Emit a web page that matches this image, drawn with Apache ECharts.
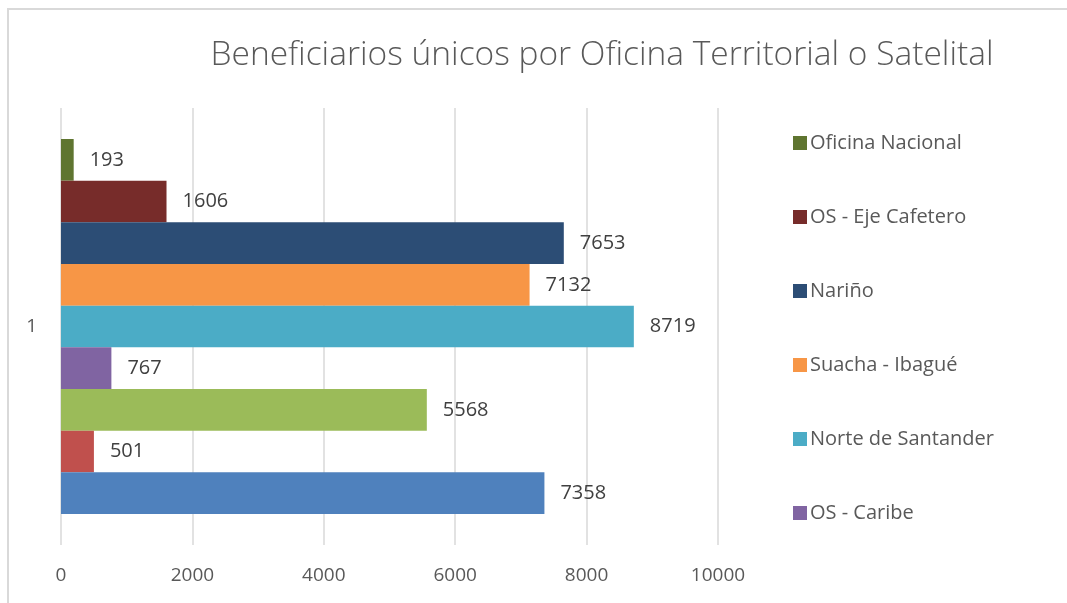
<!DOCTYPE html>
<html>
<head>
<meta charset="utf-8">
<script src="https://cdn.jsdelivr.net/npm/echarts@6/dist/echarts.min.js"></script>
<style>
  html, body { margin: 0; padding: 0; background: #fff; }
  #chart { width: 1067px; height: 603px; }
</style>
</head>
<body>
<div id="chart"></div>
<script>
// data, listed top bar first
const categories = ['1']
const seriesNames = ['Oficina Nacional', 'OS - Eje Cafetero', 'Nariño', 'Suacha - Ibagué',
  'Norte de Santander', 'OS - Caribe', 'Serie 3', 'Serie 2', 'Serie 1']
const seriesValues = [193, 1606, 7653, 7132, 8719, 767, 5568, 501, 7358]
const seriesColors = ['#5F7530', '#772C2A', '#2C4D75', '#F79646', '#4BACC6',
  '#8064A2', '#9BBB59', '#C0504D', '#4F81BD']
// only these six fit in the legend box of the original
const legendNames = ['Oficina Nacional', 'OS - Eje Cafetero', 'Nariño',
  'Suacha - Ibagué', 'Norte de Santander', 'OS - Caribe']
const xTicks = [0, 2000, 4000, 6000, 8000, 10000]

const font = '"Open Sans", "Noto Sans", sans-serif'
const chart = echarts.init(document.getElementById('chart'))

chart.setOption({
  animation: false,
  textStyle: { fontFamily: font },
  title: {
    text: 'Beneficiarios únicos por Oficina Territorial o Satelital',
    left: 597,
    top: 33,
    textAlign: 'center',
    textStyle: { fontFamily: font, fontSize: 33.5, fontWeight: 300, color: '#595959' },
  },
  legend: {
    orient: 'vertical',
    left: 788,
    top: 128,
    itemWidth: 14,
    itemHeight: 14,
    itemGap: 54,
    icon: 'rect',
    data: legendNames,
    textStyle: { fontFamily: font, fontSize: 20, color: '#595959', padding: [0, 0, 0, -2] },
  },
  grid: { left: 61, right: 349, top: 108, bottom: 58, containLabel: false },
  xAxis: {
    type: 'value',
    min: xTicks[0],
    max: xTicks[xTicks.length - 1],
    interval: 2000,
    axisLine: { show: false },
    axisTick: { show: false },
    axisLabel: {
      color: '#595959', fontSize: 19, margin: 21, fontFamily: font,
      formatter: (v) => String(v),
    },
    splitLine: { lineStyle: { color: '#d9d9d9', width: 1.5 } },
  },
  yAxis: {
    type: 'category',
    inverse: true,
    data: categories,
    axisLine: { show: false },
    axisTick: { show: false },
    axisLabel: { color: '#595959', fontSize: 19, margin: 24, fontFamily: font },
  },
  graphic: [{
    type: 'polyline',
    shape: { points: [[8, 603], [8, 9], [1067, 9]] },
    style: { fill: null, stroke: '#d9d9d9', lineWidth: 2 },
  }],
  series: seriesNames.map((name, i) => ({
    name,
    type: 'bar',
    data: [seriesValues[i]],
    barGap: '0%',
    barCategoryGap: '14.2%',
    itemStyle: { color: seriesColors[i] },
    label: {
      show: true,
      position: 'right',
      distance: 16,
      color: '#404040',
      fontSize: 20,
      fontFamily: font,
    },
  })),
})
</script>
</body>
</html>
